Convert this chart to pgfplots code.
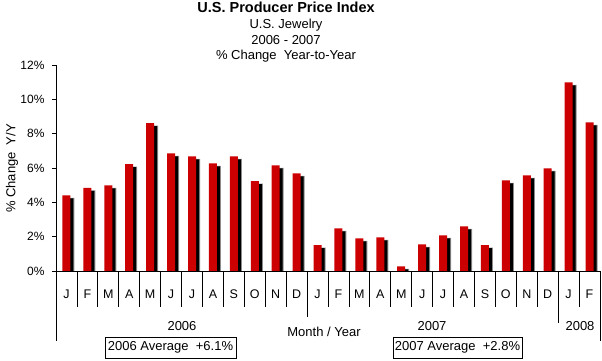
\documentclass[border=0pt]{standalone}
\usepackage{pgfplots}
\pgfplotsset{compat=1.18}
\usepackage{fontspec}
\setmainfont{Liberation Sans}
\definecolor{barred}{RGB}{204,0,0}
\pgfplotstableread{
x y
0 4.41
1 4.84
2 4.99
3 6.23
4 8.62
5 6.85
6 6.68
7 6.27
8 6.68
9 5.23
10 6.16
11 5.69
12 1.50
13 2.49
14 1.90
15 1.96
16 0.27
17 1.55
18 2.08
19 2.60
20 1.50
21 5.28
22 5.57
23 5.98
24 10.99
25 8.66
}\ppidata
\begin{document}
\begin{tikzpicture}[x=1pt,y=1pt]
\useasboundingbox (0,0) rectangle (602,361);
\begin{axis}[
  at={(56pt,90pt)}, anchor=south west,
  scale only axis, width=544pt, height=206pt,
  xmin=-0.5, xmax=25.5, ymin=0, ymax=12,
  axis x line*=bottom, axis y line*=left,
  axis line style={black, line width=0.8pt, -},
  ytick={0,2,4,6,8,10,12},
  yticklabel={\pgfmathprintnumber{\tick}\%},
  /pgf/number format/assume math mode=true,
  ticklabel style={font=\fontsize{12}{14}\selectfont},
  tick align=outside, major tick length=4pt,
  y tick style={black, line width=0.8pt},
  yticklabel style={xshift=-4pt},
  xtick={0,...,25},
  xticklabels={J,F,M,A,M,J,J,A,S,O,N,D,J,F,M,A,M,J,J,A,S,O,N,D,J,F},
  x tick style={draw=none},
  xticklabel style={anchor=center, yshift=-19pt, font=\fontsize{12.5}{14}\selectfont},
  ybar, bar width=8pt,
]
\addplot[fill=black!45, draw=none, bar shift=4pt, yshift=-2.5pt] table[x=x,y=y]{\ppidata};
\addplot[fill=black, draw=none, bar shift=3pt, yshift=-3pt] table[x=x,y=y]{\ppidata};
\addplot[fill=barred, draw=none, bar shift=0pt] table[x=x,y=y]{\ppidata};
\end{axis}
% category separators
\foreach \k in {0,...,26} {
  \draw[black, line width=0.8pt] (56+\k*20.923,90) -- ++(0,-36);
}
\draw[black, line width=0.8pt] (56,90) -- (56,20);
\draw[black, line width=0.8pt] (600,90) -- (600,20);
\draw[black, line width=0.8pt] (56+12*20.923,90) -- ++(0,-46);
\draw[black, line width=0.8pt] (56+24*20.923,90) -- ++(0,-52);
% year labels
\begin{scope}[every node/.style={font=\fontsize{13}{15}\selectfont, inner sep=0pt}]
\node at (182,35) {2006};
\node at (432,35) {2007};
\node at (580,35) {2008};
\node at (324,29) {Month / Year};
\node[draw, line width=0.8pt, minimum width=131pt, minimum height=21pt] at (170.5,13.5) {2006 Average\ \ +6.1\%};
\node[draw, line width=0.8pt, minimum width=129pt, minimum height=21pt] at (457.5,13.5) {2007 Average\ \ +2.8\%};
\node[rotate=90] at (12,192.5) {\% Change\ \ Y/Y};
\node[anchor=base, font=\fontsize{14.5}{16}\selectfont\bfseries] at (286,348.3) {U.S. Producer Price Index};
\node[anchor=base] at (286,332.7) {U.S. Jewelry};
\node[anchor=base] at (286,316.7) {2006 - 2007};
\node[anchor=base] at (286,301) {\% Change\ \ Year-to-Year};
\end{scope}
\end{tikzpicture}
\end{document}
